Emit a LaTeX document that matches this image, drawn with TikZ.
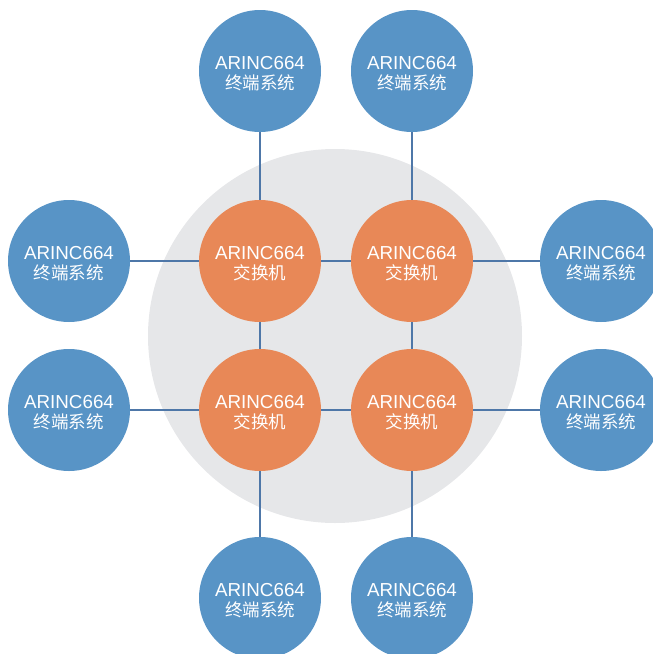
\documentclass[tikz,border=0pt]{standalone}
\usepackage{fontspec}
\setmainfont{Liberation Sans}
\newfontfamily\cjk{Noto Sans CJK SC}
\definecolor{esblue}{HTML}{5894C6}
\definecolor{swor}{HTML}{E88857}
\definecolor{bggrey}{HTML}{E6E7E9}
\definecolor{linkc}{HTML}{4E77A8}
\begin{document}
\begin{tikzpicture}[x=1pt,y=-1pt,
  labtext/.style={text=white,align=center,inner sep=0pt,yshift=-2.5pt,
    font=\fontsize{18.8}{20.5}\selectfont},
  es/.style={circle,fill=esblue,minimum size=122pt,inner sep=0pt,
    label={[labtext]center:ARINC664\\{\cjk\fontsize{17.5}{20.5}\selectfont 终端系统}}},
  sw/.style={circle,fill=swor,minimum size=122pt,inner sep=0pt,
    label={[labtext]center:ARINC664\\{\cjk\fontsize{17.5}{20.5}\selectfont 交换机}}},
  link/.style={draw=linkc,line width=1.8pt}]
\useasboundingbox (0,0) rectangle (653,654);
\node[circle,fill=bggrey,minimum size=374pt,inner sep=0pt] (bg) at (335,336) {};
% switches
\node[sw] (s1) at (260,261) {};
\node[sw] (s2) at (412,261) {};
\node[sw] (s3) at (260,410) {};
\node[sw] (s4) at (412,410) {};
% end systems
\node[es] (t1) at (260,71) {};
\node[es] (t2) at (412,71) {};
\node[es] (l1) at (69,261) {};
\node[es] (l2) at (69,410) {};
\node[es] (r1) at (601,261) {};
\node[es] (r2) at (601,410) {};
\node[es] (b1) at (260,598) {};
\node[es] (b2) at (412,598) {};
% links
\draw[link] (s1) -- (s2);
\draw[link] (s3) -- (s4);
\draw[link] (s1) -- (s3);
\draw[link] (s2) -- (s4);
\draw[link] (t1) -- (s1);
\draw[link] (t2) -- (s2);
\draw[link] (l1) -- (s1);
\draw[link] (l2) -- (s3);
\draw[link] (r1) -- (s2);
\draw[link] (r2) -- (s4);
\draw[link] (b1) -- (s3);
\draw[link] (b2) -- (s4);
\end{tikzpicture}
\end{document}
